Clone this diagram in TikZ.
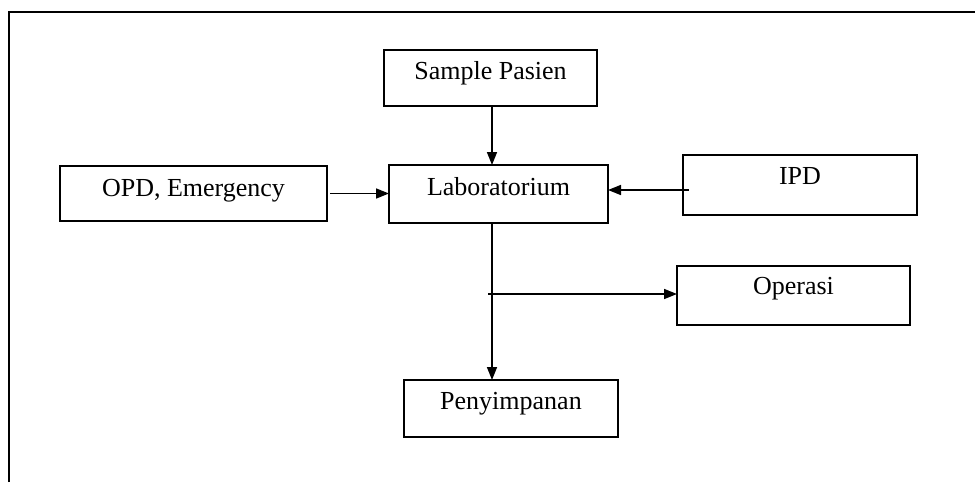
\documentclass[tikz,border=0pt]{standalone}
\usepackage{fontspec}
\setmainfont{Liberation Serif}
\usetikzlibrary{arrows.meta,calc}
\tikzset{
  box/.style={draw, line width=2pt, rectangle, inner sep=0pt, outer sep=0pt},
  lbl/.style={anchor=base, inner sep=0pt, font=\fontsize{26}{30}\selectfont},
  arr/.style={line width=1.6pt, -{Triangle[length=13pt,width=10pt]}},
  frame/.style={line width=2.2pt}
}
\newcommand{\mybox}[5]{% name, left, top, right, bottom
  \node[box, minimum width={(#4-#2)*1pt}, minimum height={(#5-#3)*1pt}] (#1) at ({(#2+#4)/2},{(#3+#5)/2}) {};}
\begin{document}
\begin{tikzpicture}[x=1pt,y=-1pt]
\useasboundingbox (0,0) rectangle (977,482);
% frame
\coordinate (ftl) at (9,12);
\coordinate (ftr) at (975,12);
\coordinate (fbl) at (9,482);
\draw[frame] (fbl) -- (ftl) -- (ftr);
% boxes
\mybox{sp}{384}{50}{597}{105.5}
\mybox{lab}{389}{165}{608}{223}
\mybox{opd}{60}{166}{327}{221}
\mybox{ipd}{683}{155}{917}{215}
\mybox{op}{677}{266}{910}{325}
\mybox{pen}{404}{380}{618}{437}
% labels
\node[lbl] (tsp) at (490.5,79) {Sample Pasien};
\node[lbl] (tlab) at (498.5,195) {Laboratorium};
\node[lbl] (topd) at (193.5,196) {OPD, Emergency};
\node[lbl] (tipd) at (800,184) {IPD};
\node[lbl] (top) at (793.5,294.5) {Operasi};
\node[lbl] (tpen) at (511,409) {Penyimpanan};
% helper coordinates
\coordinate (spine) at (492,0);
\coordinate (ipdy) at (0,190);
\coordinate (br) at (488,294);
% connectors
\draw[arr] (sp.south -| spine) -- (lab.north -| spine);
\draw[arr] ([xshift=3pt]opd.east) -- (lab.west |- opd.east);
\draw[arr] ([xshift=6pt]ipd.west |- ipdy) -- (lab.east |- ipdy);
\draw[arr] (lab.south -| spine) -- (pen.north -| spine);
\draw[arr] (br) -- (op.west |- br);
\end{tikzpicture}
\end{document}
